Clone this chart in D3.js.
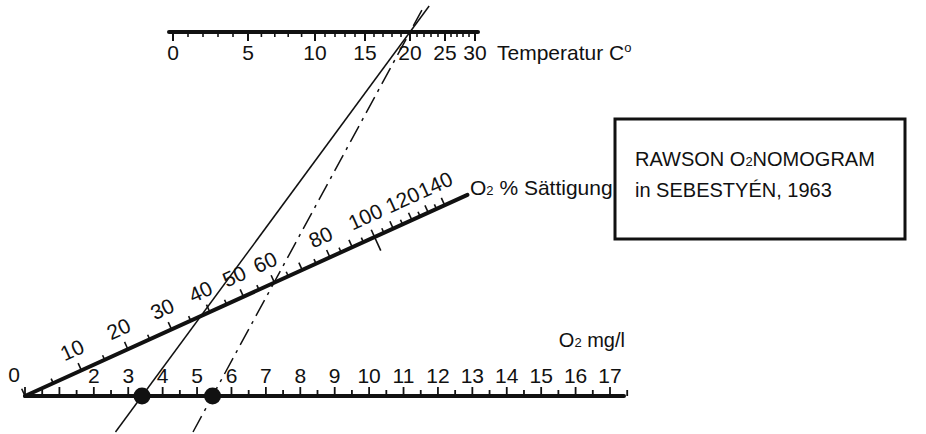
<!DOCTYPE html>
<html><head><meta charset="utf-8">
<script src="https://cdn.jsdelivr.net/npm/d3@7"></script>
<style>
body{margin:0;background:#fff}
text{font-family:"Liberation Sans",Arial,Helvetica,sans-serif;fill:#111}
</style>
</head><body>
<svg id="c" width="926" height="434"></svg>
<script>
// ---- data ----
const tempLabels = [0, 5, 10, 15, 20, 25, 30];
const tempMinor = d3.range(0, 31, 1);
const satLabels = [10, 20, 30, 40, 50, 60, 80, 100, 120, 140];
const satMinor = d3.range(0, 141, 5);
const mglLabels = [2, 3, 4, 5, 6, 7, 8, 9, 10, 11, 12, 13, 14, 15, 16, 17];
const mglMinor = d3.range(0, 17.51, 0.5);
const readings = [
  {temp: 20, mgl: 3.4, dashed: false},
  {temp: 20, mgl: 5.45, dashed: true}
];

// ---- geometry / scales ----
const svg = d3.select("#c");
svg.append("rect").attr("width", 926).attr("height", 434).attr("fill", "#fff");

const yBot = 396, yTop = 32;
const x = d3.scaleLinear().domain([0, 17]).range([25, 610]);          // O2 mg/l
const xT = d3.scaleLinear().domain(tempLabels)
  .range([173, 248, 315, 365, 410, 445, 475]);                          // temperature (non-linear)
const ang = Math.atan2(201, 442);                                       // slope of % axis
const ca = Math.cos(ang), sa = Math.sin(ang);
const dS = d3.scaleLinear()
  .domain([0, 10, 20, 30, 40, 50, 60, 80, 100, 120, 140])
  .range([0, 62, 113, 161, 203, 240, 274, 335, 384, 425, 461]);         // distance along % axis
const ox = x(0), oy = yBot;
const sp = v => [ox + dS(v) * ca, oy - dS(v) * sa];
const perp = [-sa, -ca];

const ink = "#111";

// ---- top axis : temperature ----
const gT = svg.append("g");
gT.append("line").attr("x1", 169).attr("x2", 478).attr("y1", yTop).attr("y2", yTop)
  .attr("stroke", ink).attr("stroke-width", 4).attr("stroke-linecap", "round");
gT.selectAll("line.t").data(tempMinor).join("line").attr("class", "t")
  .attr("x1", d => xT(d)).attr("x2", d => xT(d))
  .attr("y1", yTop).attr("y2", d => yTop + (d % 5 === 0 ? 9 : 5))
  .attr("stroke", ink).attr("stroke-width", d => d % 5 === 0 ? 2 : 1.6);
gT.selectAll("text.tl").data(tempLabels).join("text").attr("class", "tl")
  .attr("x", d => xT(d)).attr("y", 60).attr("text-anchor", "middle")
  .attr("font-size", 21).text(d => d);
const tt = gT.append("text").attr("x", 497).attr("y", 60).attr("font-size", 21);
tt.append("tspan").text("Temperatur C");
tt.append("tspan").attr("font-size", 13).attr("dy", -8).text("o");

// ---- bottom axis : O2 mg/l ----
const gB = svg.append("g");
gB.append("line").attr("x1", x(0)).attr("x2", 624).attr("y1", yBot).attr("y2", yBot)
  .attr("stroke", ink).attr("stroke-width", 4).attr("stroke-linecap", "round");
gB.selectAll("line.t").data(mglMinor).join("line").attr("class", "t")
  .attr("x1", d => x(d)).attr("x2", d => x(d))
  .attr("y1", yBot).attr("y2", d => yBot - (Number.isInteger(d) ? 9 : 6))
  .attr("stroke", ink).attr("stroke-width", 1.8);
gB.selectAll("text.ml").data(mglLabels).join("text").attr("class", "ml")
  .attr("x", d => x(d)).attr("y", 383).attr("text-anchor", "middle")
  .attr("font-size", 21).text(d => d);
gB.append("text").attr("x", x(0) - 5).attr("y", 382).attr("text-anchor", "end")
  .attr("font-size", 21).text("0");
const mt = gB.append("text").attr("x", 625).attr("y", 347).attr("text-anchor", "end").attr("font-size", 20);
mt.append("tspan").text("O");
mt.append("tspan").attr("font-size", 13).text("2");
mt.append("tspan").text(" mg/l");

// ---- slanted axis : O2 % Sättigung ----
const gS = svg.append("g");
gS.append("line").attr("x1", ox).attr("y1", oy)
  .attr("x2", ox + 486 * ca).attr("y2", oy - 486 * sa)
  .attr("stroke", ink).attr("stroke-width", 4).attr("stroke-linecap", "round");
gS.selectAll("line.t").data(satMinor).join("line").attr("class", "t")
  .attr("x1", d => sp(d)[0] - (d === 100 ? 15 : 0) * perp[0])
  .attr("y1", d => sp(d)[1] - (d === 100 ? 15 : 0) * perp[1])
  .attr("x2", d => sp(d)[0] + (d % 10 === 0 ? 8 : 5) * perp[0])
  .attr("y2", d => sp(d)[1] + (d % 10 === 0 ? 8 : 5) * perp[1])
  .attr("stroke", ink).attr("stroke-width", 1.6);
gS.selectAll("text.sl").data(satLabels).join("text").attr("class", "sl")
  .attr("transform", d => {
    const p = sp(d);
    return `translate(${p[0] + 15 * perp[0]},${p[1] + 15 * perp[1]}) rotate(${-ang * 180 / Math.PI})`;
  })
  .attr("text-anchor", "middle").attr("font-size", 21).text(d => d);
const st = gS.append("text").attr("x", 470).attr("y", 195).attr("font-size", 21);
st.append("tspan").text("O");
st.append("tspan").attr("font-size", 13).text("2");
st.append("tspan").text(" % Sättigung");

// ---- reading lines ----
const gL = svg.append("g");
readings.forEach(r => {
  const xb = x(r.mgl), xt = xT(r.temp);
  const at = y => xb + (xt - xb) * (yBot - y) / (yBot - yTop);
  gL.append("line")
    .attr("x1", at(432)).attr("y1", 432).attr("x2", at(6)).attr("y2", 6)
    .attr("stroke", ink).attr("stroke-width", 1.5)
    .attr("stroke-dasharray", r.dashed ? "18,6,3,6" : null);
  gL.append("circle").attr("cx", xb).attr("cy", yBot).attr("r", 8.5).attr("fill", ink);
});

// ---- title box ----
const gBox = svg.append("g");
gBox.append("rect").attr("x", 615).attr("y", 119).attr("width", 290).attr("height", 120)
  .attr("fill", "none").attr("stroke", ink).attr("stroke-width", 3);
const b1 = gBox.append("text").attr("x", 635).attr("y", 166).attr("font-size", 20);
b1.append("tspan").text("RAWSON O");
b1.append("tspan").attr("font-size", 13).text("2");
b1.append("tspan").text("NOMOGRAM");
gBox.append("text").attr("x", 635).attr("y", 197).attr("font-size", 20).text("in SEBESTYÉN, 1963");
</script>
</body></html>
